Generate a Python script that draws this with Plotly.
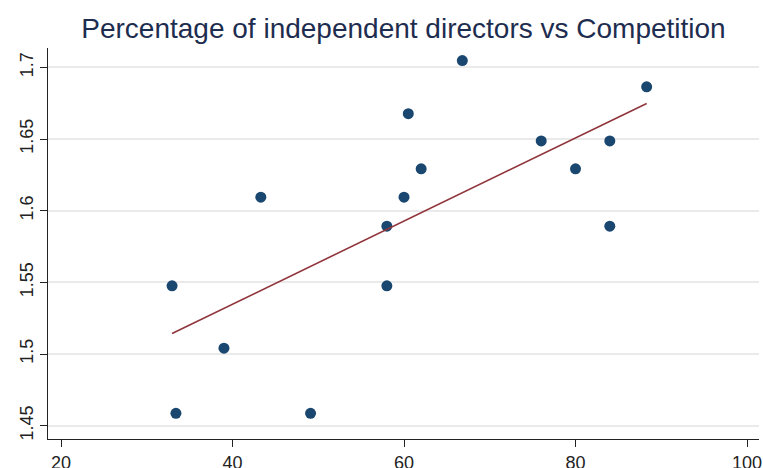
import numpy as np
import plotly.graph_objects as go

# Data
pct_independent = [32.95, 33.4, 39.0, 43.3, 49.1, 58.0, 58.0, 60.0, 60.5, 62.0, 66.8, 76.0, 80.0, 84.0, 84.0, 88.3]
competition = [1.5476, 1.4586, 1.5041, 1.6094, 1.4586, 1.5476, 1.5892, 1.6094,
               1.6677, 1.6292, 1.7047, 1.6487, 1.6292, 1.6487, 1.5892, 1.6864]
x_ticks = [20, 40, 60, 80, 100]
y_ticks = [1.45, 1.5, 1.55, 1.6, 1.65, 1.7]
y_tick_labels = ["1.45", "1.5", "1.55", "1.6", "1.65", "1.7"]
title_text = "Percentage of independent directors vs Competition"

# Linear fit
slope, intercept = np.polyfit(pct_independent, competition, 1)
fit_x = [min(pct_independent), max(pct_independent)]
fit_y = [intercept + slope * v for v in fit_x]

fig = go.Figure()
fig.add_trace(go.Scatter(
    x=pct_independent, y=competition, mode="markers",
    marker=dict(color="#1a476f", size=11, line=dict(width=0)),
    showlegend=False, hoverinfo="x+y",
))
fig.add_trace(go.Scatter(
    x=fit_x, y=fit_y, mode="lines",
    line=dict(color="#90353b", width=1.6),
    showlegend=False,
))

font_family = "Liberation Sans, Arial, sans-serif"

fig.update_layout(
    width=763, height=468,
    margin=dict(l=48, r=4, t=48, b=29, autoexpand=False),
    paper_bgcolor="white", plot_bgcolor="white",
    title=dict(text=title_text, x=403.5 / 763, xanchor="center",
               y=1 - 28 / 468, yanchor="middle", yref="container",
               font=dict(family=font_family, size=28, color="#1e2d4f")),
    font=dict(family=font_family, color="#222222"),
)
fig.update_xaxes(
    range=[18.48, 101.4], tickvals=x_ticks, ticktext=[str(v) for v in x_ticks],
    automargin=False,
    showgrid=False, zeroline=False, showline=True, linecolor="#222222", linewidth=1.2,
    ticks="outside", ticklen=7, tickcolor="#222222", tickwidth=1,
    tickfont=dict(family=font_family, size=18, color="#222222"),
)
fig.update_yaxes(
    range=[1.4407, 1.7135], tickvals=y_ticks, ticktext=y_tick_labels, tickangle=-90,
    automargin=False,
    showgrid=True, gridcolor="#eaeaea", gridwidth=1.5,
    zeroline=False, showline=True, linecolor="#222222", linewidth=1.2,
    ticks="outside", ticklen=7, tickcolor="#222222", tickwidth=1,
    tickfont=dict(family=font_family, size=18, color="#222222"),
)

fig.write_html("out.html", config={"displayModeBar": False},
               post_script="document.body.style.margin='0';")
